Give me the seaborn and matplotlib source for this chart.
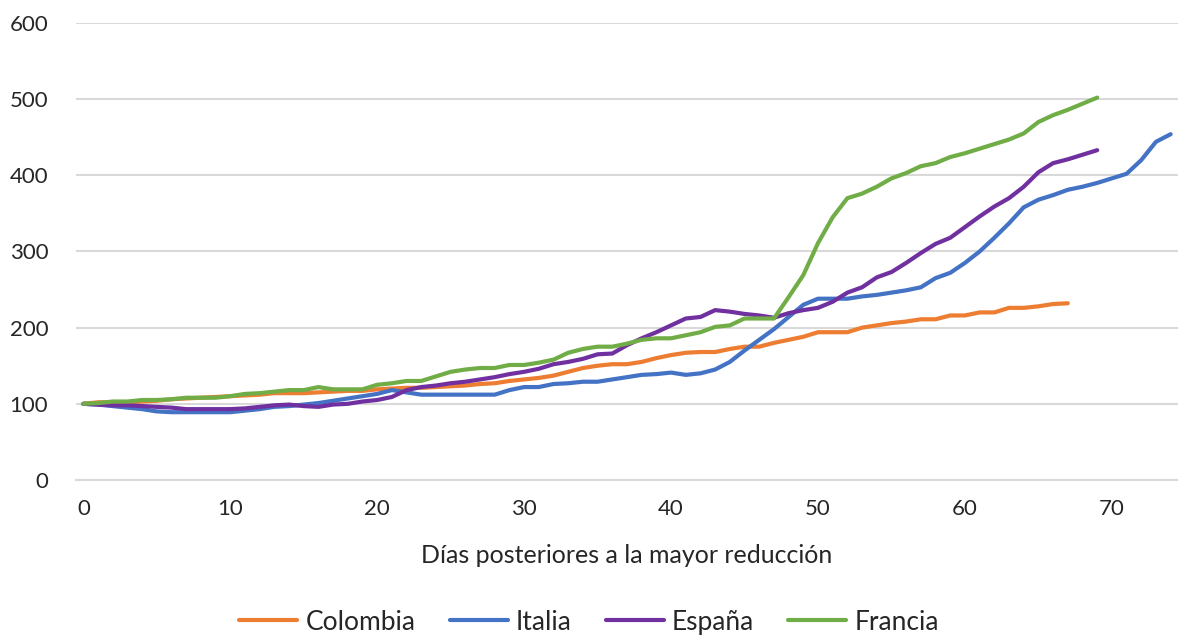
import pandas as pd
import numpy as np
import matplotlib.pyplot as plt
import seaborn as sns

# Series (indice, dia 0 = 100)
colombia = [100, 102, 102, 102, 103, 104, 106, 107, 108, 109,
            110, 111, 112, 114, 114, 114, 115, 116, 117, 117,
            119, 120, 121, 121, 122, 123, 124, 126, 127, 130,
            132, 134, 137, 142, 147, 150, 152, 152, 155, 160,
            164, 167, 168, 168, 172, 175, 175, 180, 184, 188,
            194, 194, 194, 200, 203, 206, 208, 211, 211, 216,
            216, 220, 220, 226, 226, 228, 231, 232]
italia = [100, 99, 97, 95, 93, 90, 89, 89, 89, 89,
          89, 91, 93, 96, 97, 99, 101, 104, 107, 110,
          113, 118, 115, 112, 112, 112, 112, 112, 112, 118,
          122, 122, 126, 127, 129, 129, 132, 135, 138, 139,
          141, 138, 140, 145, 155, 170, 184, 198, 214, 230,
          238, 238, 238, 241, 243, 246, 249, 253, 265, 272,
          285, 300, 318, 337, 358, 368, 374, 381, 385, 390,
          396, 402, 420, 444, 454]
espana = [100, 99, 98, 98, 97, 96, 95, 93, 93, 93,
          93, 94, 96, 98, 99, 97, 96, 99, 100, 103,
          105, 109, 118, 122, 124, 127, 129, 132, 135, 139,
          142, 146, 152, 155, 159, 165, 166, 177, 186, 194,
          203, 212, 214, 223, 221, 218, 216, 213, 219, 223,
          226, 234, 246, 253, 266, 273, 285, 298, 310, 318,
          332, 346, 359, 370, 385, 404, 416, 421, 427, 433]
francia = [100, 101, 103, 103, 105, 105, 106, 108, 108, 108,
           110, 113, 114, 116, 118, 118, 122, 119, 119, 119,
           125, 127, 130, 130, 136, 142, 145, 147, 147, 151,
           151, 154, 158, 167, 172, 175, 175, 179, 184, 186,
           186, 190, 194, 201, 203, 212, 212, 212, 240, 269,
           311, 345, 370, 376, 385, 396, 403, 412, 416, 424,
           429, 435, 441, 447, 455, 470, 479, 486, 494, 502]

paises = ['Colombia', 'Italia', 'España', 'Francia']
colores = ['#ED7D31', '#4472C4', '#7030A0', '#70AD47']
x_ticks = [0, 10, 20, 30, 40, 50, 60, 70]
y_ticks = [0, 100, 200, 300, 400, 500, 600]

frames = []
for nombre, serie in zip(paises, [colombia, italia, espana, francia]):
    frames.append(pd.DataFrame({'dia': np.arange(len(serie)), 'valor': serie, 'pais': nombre}))
df = pd.concat(frames, ignore_index=True)

sns.set_style('white')
plt.rcParams['font.family'] = ['Lato', 'DejaVu Sans']

fig = plt.figure(figsize=(11.78, 6.44), dpi=100)
ax = fig.add_axes([0.0645, 0.2547, 0.9355, 0.7096])

sns.lineplot(data=df, x='dia', y='valor', hue='pais', hue_order=paises,
             palette=colores, linewidth=3, ax=ax, legend=False)

ax.set_xlim(-0.5, 74.5)
ax.set_ylim(0, 600)
ax.set_yticks(y_ticks)
ax.set_xticks(x_ticks)
ax.set_xticks(np.arange(-0.5, 75, 1), minor=True)
ax.tick_params(axis='x', which='major', length=0, pad=14, labelsize=16)
ax.tick_params(axis='x', which='minor', length=7, width=1, color='#bfbfbf')
ax.tick_params(axis='y', length=0, pad=20, labelsize=16)
ax.grid(axis='y', color='#d9d9d9', linewidth=1.5)
ax.set_axisbelow(True)
for s in ['top', 'right', 'left']:
    ax.spines[s].set_visible(False)
ax.spines['bottom'].set_color('#d9d9d9')
ax.spines['bottom'].set_linewidth(1.5)

ax.set_xlabel('Días posteriores a la mayor reducción', fontsize=18, labelpad=18)
ax.set_ylabel('')

handles = [plt.Line2D([0], [0], color=c, linewidth=3) for c in colores]
fig.legend(handles, paises, loc='center', bbox_to_anchor=(0.5, 0.034), ncol=4,
           frameon=False, fontsize=19, handlelength=2.2, columnspacing=1.3,
           handletextpad=0.3)

fig.savefig('out.png', dpi=100)
